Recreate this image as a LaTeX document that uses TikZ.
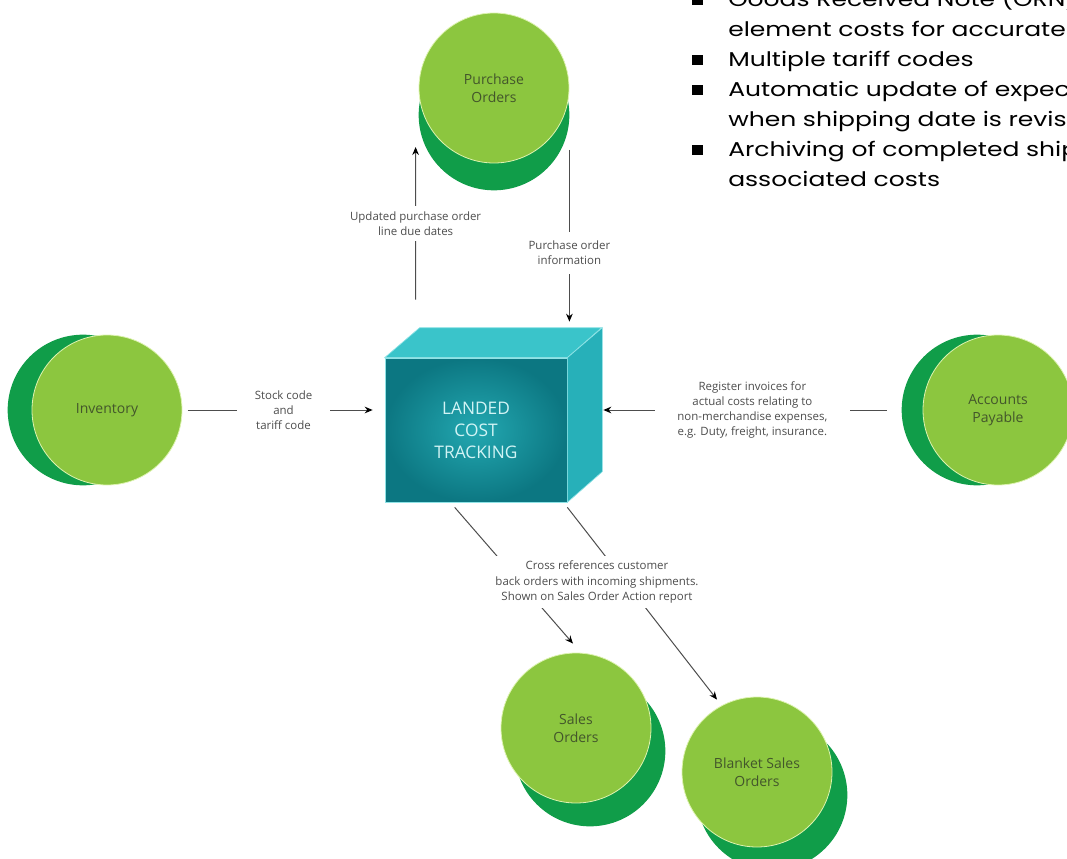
\documentclass[tikz,border=0pt]{standalone}
\usepackage{fontspec}
\setmainfont{Open Sans}
\newfontfamily\gothic[FakeStretch=1.25]{Poppins}
\usetikzlibrary{arrows.meta, shapes, calc}

\definecolor{leaf}{HTML}{8CC63F}
\definecolor{forest}{HTML}{109D49}
\definecolor{rim}{HTML}{DDF3B0}
\definecolor{leaftext}{HTML}{43562B}
\definecolor{tealmid}{HTML}{23A8B1}
\definecolor{tealdark}{HTML}{0C7782}
\definecolor{tealtop}{HTML}{3AC4CA}
\definecolor{tealside}{HTML}{27B0B9}
\definecolor{tealrim}{HTML}{8FE3E6}
\definecolor{labelgray}{HTML}{4D4D4D}

\tikzset{
  back/.style={circle, inner sep=0pt, minimum size=113pt, fill=forest},
  disc/.style={circle, inner sep=0pt, minimum size=112.5pt, fill=leaf, draw=rim,
               line width=0.6pt, text=leaftext, align=center,
               font=\fontsize{10.5}{13.5}\selectfont},
  lbl/.style={fill=white, text=labelgray, align=center,
              font=\fontsize{8.6}{11.3}\selectfont},
}

\begin{document}
\begin{tikzpicture}[x=0.75pt, y=-0.75pt]
\useasboundingbox (0,0) rectangle (1067,859);
\clip (0,0) rectangle (1067,859);

% the five circles, dark copy behind the light one
\node[back] (purchaseback) at (494,115) {};
\node[disc] (purchase) at (494,88) {Purchase\\Orders};
\node[back] (inventoryback) at (83,410) {};
\node[disc] (inventory) at (107,410) {Inventory};
\node[back] (payableback) at (977,410) {};
\node[disc] (payable) at (998,410) {Accounts\\Payable};
\node[back] (salesback) at (590,751) {};
\node[disc] (sales) at (576,728) {Sales\\Orders};
\node[back] (blanketback) at (772,795) {};
\node[disc] (blanket) at (757,772) {Blanket Sales\\Orders};

% the box
\node[rectangle, minimum width=136.5pt, minimum height=108pt,
      inner color=tealmid, outer color=tealdark, draw=tealrim, line width=0.5pt,
      text=tealrim!40!white, align=center,
      font=\fontsize{13}{16.5}\selectfont] (box) at (476,430) {LANDED\\COST\\TRACKING};
\filldraw[fill=tealtop, draw=tealrim, line width=0.5pt]
  (box.north west) -- ++(35,-30) -- ++(182,0) -- (box.north east) -- cycle;
\filldraw[fill=tealside, draw=tealrim, line width=0.5pt]
  (box.north east) -- ++(35,-30) -- ++(0,144) -- (box.south east) -- cycle;

% bullet list, cut by the page edge
\begin{scope}[every node/.style={anchor=base west, inner sep=0pt,
              font=\gothic\fontsize{15}{18}\selectfont}]
  \node (goods) at (728,7) {Goods Received Note (GRN)};
  \node (element) at (728,37) {element costs for accurate};
  \node (multiple) at (728,67) {Multiple tariff codes};
  \node (automatic) at (728,97) {Automatic update of expected};
  \node (when) at (728,127) {when shipping date is revised};
  \node (archiving) at (728,157) {Archiving of completed shipments};
  \node (associated) at (728,187) {associated costs};
\end{scope}
\foreach \n in {goods,multiple,automatic,archiving}
  \fill ($(\n.base west)+(-36,-12)$) rectangle ++(11,10);

% connectors
\begin{scope}[>={Stealth[black, length=6pt, width=5pt]},
              every edge/.style={draw=labelgray, line width=0.75pt}]
  \path[->] (inventory.east) edge[shorten <=4pt, shorten >=9pt]
    node[lbl, inner xsep=13pt] {Stock code\\and\\tariff code} (inventory.east -| box.west);
  \path[->] (payableback.west) edge[shorten <=11pt]
    node[lbl, inner xsep=17pt] {Register invoices for\\actual costs relating to\\non-merchandise expenses,\\e.g. Duty, freight, insurance.}
    ($(box.east |- payableback.west)+(36,0)$);
  \path[->] ($(purchase.east)+(0,62)$) edge
    node[lbl, pos=0.6, inner ysep=7pt] {Purchase order\\information}
    ($(purchase.east |- box.north)+(0,-36)$);
  \path[->] ($(box.north west)+(31,-58)$) edge
    node[lbl, inner ysep=4pt] {Updated purchase order\\line due dates}
    ($(purchase.west)+(-3,59)$);
  \path[->] ($(box.south west)+(70,5)$) edge ($(sales.north)+(-3,-9)$);
  \path[->] ($(box.south east)+(0,5)$) edge ($(blanket.north)+(-40,3)$);
\end{scope}
\node[lbl, inner sep=4pt] (crossref) at (597,582)
  {Cross references customer\\back orders with incoming shipments.\\Shown on Sales Order Action report};

\end{tikzpicture}
\end{document}
